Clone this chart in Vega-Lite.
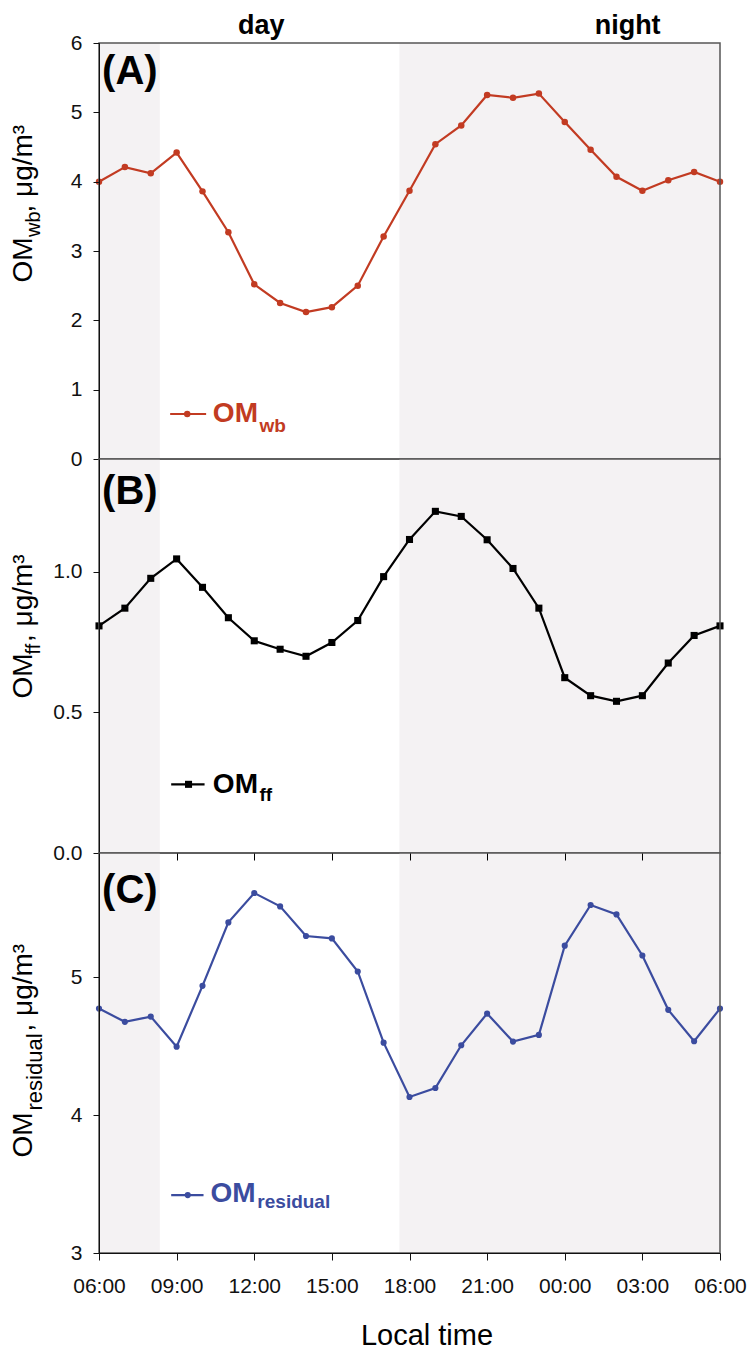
{
  "$schema": "https://vega.github.io/schema/vega-lite/v6.json",
  "padding": {"left": 9, "top": 11, "right": 10, "bottom": 5},
  "spacing": 0,
  "bounds": "flush",
  "datasets": {
    "bands": [{"start": 6, "end": 8.35}, {"start": 17.61, "end": 30}],
    "diurnal": [
      {"hour": 6, "om_wb": 4.0, "om_ff": 0.807, "om_residual": 4.772},
      {"hour": 7, "om_wb": 4.21, "om_ff": 0.87, "om_residual": 4.676},
      {"hour": 8, "om_wb": 4.12, "om_ff": 0.976, "om_residual": 4.714},
      {"hour": 9, "om_wb": 4.42, "om_ff": 1.045, "om_residual": 4.496},
      {"hour": 10, "om_wb": 3.86, "om_ff": 0.944, "om_residual": 4.937},
      {"hour": 11, "om_wb": 3.27, "om_ff": 0.836, "om_residual": 5.397},
      {"hour": 12, "om_wb": 2.52, "om_ff": 0.754, "om_residual": 5.61},
      {"hour": 13, "om_wb": 2.25, "om_ff": 0.724, "om_residual": 5.513},
      {"hour": 14, "om_wb": 2.12, "om_ff": 0.699, "om_residual": 5.298},
      {"hour": 15, "om_wb": 2.19, "om_ff": 0.748, "om_residual": 5.281},
      {"hour": 16, "om_wb": 2.5, "om_ff": 0.826, "om_residual": 5.041},
      {"hour": 17, "om_wb": 3.21, "om_ff": 0.982, "om_residual": 4.525},
      {"hour": 18, "om_wb": 3.87, "om_ff": 1.114, "om_residual": 4.131},
      {"hour": 19, "om_wb": 4.54, "om_ff": 1.214, "om_residual": 4.196},
      {"hour": 20, "om_wb": 4.81, "om_ff": 1.196, "om_residual": 4.506},
      {"hour": 21, "om_wb": 5.25, "om_ff": 1.113, "om_residual": 4.736},
      {"hour": 22, "om_wb": 5.21, "om_ff": 1.011, "om_residual": 4.533},
      {"hour": 23, "om_wb": 5.27, "om_ff": 0.87, "om_residual": 4.581},
      {"hour": 24, "om_wb": 4.86, "om_ff": 0.623, "om_residual": 5.228},
      {"hour": 25, "om_wb": 4.46, "om_ff": 0.559, "om_residual": 5.523},
      {"hour": 26, "om_wb": 4.07, "om_ff": 0.539, "om_residual": 5.455},
      {"hour": 27, "om_wb": 3.87, "om_ff": 0.559, "om_residual": 5.157},
      {"hour": 28, "om_wb": 4.02, "om_ff": 0.675, "om_residual": 4.763},
      {"hour": 29, "om_wb": 4.14, "om_ff": 0.773, "om_residual": 4.535},
      {"hour": 30, "om_wb": 4.0, "om_ff": 0.807, "om_residual": 4.772}
    ]
  },
  "vconcat": [
    {
      "width": 621,
      "height": 416,
      "layer": [
        {
          "data": {"name": "bands"},
          "mark": {"type": "rect", "color": "#f4f2f3"},
          "encoding": {
            "x": {"field": "start", "type": "quantitative", "scale": {"domain": [6, 30], "nice": false, "zero": false}, "axis": null},
            "x2": {"field": "end"}
          }
        },
        {
          "data": {"name": "diurnal"},
          "mark": {"type": "line", "color": "#c23b22", "strokeWidth": 2.2},
          "encoding": {
            "x": {"field": "hour", "type": "quantitative", "axis": null},
            "y": {"field": "om_wb", "type": "quantitative", "scale": {"domain": [0, 6], "nice": false, "zero": false}, "axis": {"orient": "left", "values": [0, 1, 2, 3, 4, 5, 6], "title": null, "tickSize": 6, "labelPadding": 11, "labelFontSize": 21, "grid": false, "zindex": 1}}
          }
        },
        {
          "data": {"name": "diurnal"},
          "mark": {"type": "point", "filled": true, "shape": "circle", "size": 42, "color": "#c23b22", "opacity": 1},
          "encoding": {
            "x": {"field": "hour", "type": "quantitative", "axis": null},
            "y": {"field": "om_wb", "type": "quantitative", "axis": null}
          }
        },
        {
          "data": {"values": [{}]},
          "mark": {"type": "rule", "color": "#c23b22", "strokeWidth": 2.2},
          "encoding": {
            "x": {"datum": 8.75, "axis": null},
            "x2": {"datum": 10.14},
            "y": {"datum": 0.649, "axis": {"orient": "left", "title": "OM", "labels": false, "ticks": false, "domain": false, "grid": false, "titleAngle": 270, "titleAlign": "left", "titleBaseline": "alphabetic", "titleX": -67.8, "titleY": 239, "titleFontSize": 28, "titleFontWeight": "normal", "titleColor": "#000"}}
          }
        },
        {
          "data": {"values": [{}]},
          "mark": {"type": "point", "filled": true, "shape": "circle", "size": 42, "color": "#c23b22", "opacity": 1},
          "encoding": {
            "x": {"datum": 9.41, "axis": null},
            "y": {"datum": 0.649, "axis": {"orient": "left", "title": "wb", "labels": false, "ticks": false, "domain": false, "grid": false, "titleAngle": 270, "titleAlign": "left", "titleBaseline": "alphabetic", "titleX": -60, "titleY": 193.5, "titleFontSize": 20, "titleFontWeight": "normal", "titleColor": "#000"}}
          }
        },
        {
          "data": {"values": [{}]},
          "mark": {"type": "text", "text": "OM", "align": "left", "baseline": "alphabetic", "fontSize": 28, "fontWeight": "bold", "color": "#c23b22"},
          "encoding": {
            "x": {"datum": 10.4, "axis": null},
            "y": {"datum": 0.528, "axis": {"orient": "left", "title": ", μg/m³", "labels": false, "ticks": false, "domain": false, "grid": false, "titleAngle": 270, "titleAlign": "left", "titleBaseline": "alphabetic", "titleX": -67.8, "titleY": 169, "titleFontSize": 28, "titleFontWeight": "normal", "titleColor": "#000"}}
          }
        },
        {
          "data": {"values": [{}]},
          "mark": {"type": "text", "text": "wb", "align": "left", "baseline": "alphabetic", "fontSize": 19, "fontWeight": "bold", "color": "#c23b22"},
          "encoding": {
            "x": {"datum": 12.2, "axis": null},
            "y": {"datum": 0.384, "axis": null}
          }
        },
        {
          "data": {"values": [{}]},
          "mark": {"type": "text", "text": "(A)", "align": "left", "baseline": "alphabetic", "fontSize": 40, "fontWeight": "bold", "color": "#000"},
          "encoding": {
            "x": {"datum": 6.12, "axis": null},
            "y": {"datum": 5.41, "axis": null}
          }
        },
        {
          "data": {"values": [{}]},
          "mark": {"type": "text", "text": "day", "align": "center", "baseline": "alphabetic", "fontSize": 27, "fontWeight": "bold", "color": "#000"},
          "encoding": {
            "x": {"datum": 12.27, "axis": null},
            "y": {"datum": 6.134, "axis": null}
          }
        },
        {
          "data": {"values": [{}]},
          "mark": {"type": "text", "text": "night", "align": "center", "baseline": "alphabetic", "fontSize": 27, "fontWeight": "bold", "color": "#000"},
          "encoding": {
            "x": {"datum": 26.43, "axis": null},
            "y": {"datum": 6.134, "axis": null}
          }
        },
        {
          "data": {"values": [{}]},
          "mark": {"type": "rect", "fill": null, "fillOpacity": 0, "stroke": "#555555", "strokeWidth": 1.5},
          "encoding": {
            "x": {"datum": 6, "axis": null},
            "x2": {"datum": 30},
            "y": {"datum": 0, "axis": null},
            "y2": {"datum": 6}
          }
        }
      ],
      "resolve": {"axis": {"y": "independent"}}
    },
    {
      "width": 621,
      "height": 394,
      "layer": [
        {
          "data": {"name": "bands"},
          "mark": {"type": "rect", "color": "#f4f2f3"},
          "encoding": {
            "x": {"field": "start", "type": "quantitative", "scale": {"domain": [6, 30], "nice": false, "zero": false}, "axis": null},
            "x2": {"field": "end"}
          }
        },
        {
          "data": {"name": "diurnal"},
          "mark": {"type": "line", "color": "#000000", "strokeWidth": 2.2},
          "encoding": {
            "x": {"field": "hour", "type": "quantitative", "axis": {"orient": "top", "values": [9, 12, 15, 18, 21, 24, 27], "labels": false, "domain": false, "grid": false, "ticks": true, "tickSize": 7, "offset": -7, "tickColor": "#000", "tickWidth": 1, "title": null, "zindex": 1}},
            "y": {"field": "om_ff", "type": "quantitative", "scale": {"domain": [0, 1.4], "nice": false, "zero": false}, "axis": {"orient": "left", "values": [0, 0.5, 1.0], "format": ".1f", "title": null, "tickSize": 6, "labelPadding": 11, "labelFontSize": 21, "grid": false, "zindex": 1}}
          }
        },
        {
          "data": {"name": "diurnal"},
          "mark": {"type": "point", "filled": true, "shape": "square", "size": 50, "color": "#000000", "opacity": 1},
          "encoding": {
            "x": {"field": "hour", "type": "quantitative", "axis": null},
            "y": {"field": "om_ff", "type": "quantitative", "axis": null}
          }
        },
        {
          "data": {"values": [{}]},
          "mark": {"type": "rule", "color": "#000000", "strokeWidth": 2.2},
          "encoding": {
            "x": {"datum": 8.79, "axis": null},
            "x2": {"datum": 10.08},
            "y": {"datum": 0.244, "axis": {"orient": "left", "title": "OM", "labels": false, "ticks": false, "domain": false, "grid": false, "titleAngle": 270, "titleAlign": "left", "titleBaseline": "alphabetic", "titleX": -67.8, "titleY": 239, "titleFontSize": 28, "titleFontWeight": "normal", "titleColor": "#000"}}
          }
        },
        {
          "data": {"values": [{}]},
          "mark": {"type": "point", "filled": true, "shape": "square", "size": 50, "color": "#000000", "opacity": 1},
          "encoding": {
            "x": {"datum": 9.46, "axis": null},
            "y": {"datum": 0.244, "axis": {"orient": "left", "title": "ff", "labels": false, "ticks": false, "domain": false, "grid": false, "titleAngle": 270, "titleAlign": "left", "titleBaseline": "alphabetic", "titleX": -59.5, "titleY": 195, "titleFontSize": 20, "titleFontWeight": "normal", "titleColor": "#000"}}
          }
        },
        {
          "data": {"values": [{}]},
          "mark": {"type": "text", "text": "OM", "align": "left", "baseline": "alphabetic", "fontSize": 28, "fontWeight": "bold", "color": "#000000"},
          "encoding": {
            "x": {"datum": 10.4, "axis": null},
            "y": {"datum": 0.214, "axis": {"orient": "left", "title": ", μg/m³", "labels": false, "ticks": false, "domain": false, "grid": false, "titleAngle": 270, "titleAlign": "left", "titleBaseline": "alphabetic", "titleX": -67.8, "titleY": 182.5, "titleFontSize": 28, "titleFontWeight": "normal", "titleColor": "#000"}}
          }
        },
        {
          "data": {"values": [{}]},
          "mark": {"type": "text", "text": "ff", "align": "left", "baseline": "alphabetic", "fontSize": 19, "fontWeight": "bold", "color": "#000000"},
          "encoding": {
            "x": {"datum": 12.2, "axis": null},
            "y": {"datum": 0.185, "axis": null}
          }
        },
        {
          "data": {"values": [{}]},
          "mark": {"type": "text", "text": "(B)", "align": "left", "baseline": "alphabetic", "fontSize": 40, "fontWeight": "bold", "color": "#000"},
          "encoding": {
            "x": {"datum": 6.12, "axis": null},
            "y": {"datum": 1.239, "axis": null}
          }
        },
        {
          "data": {"values": [{}]},
          "mark": {"type": "rect", "fill": null, "fillOpacity": 0, "stroke": "#555555", "strokeWidth": 1.5},
          "encoding": {
            "x": {"datum": 6, "axis": null},
            "x2": {"datum": 30},
            "y": {"datum": 0, "axis": null},
            "y2": {"datum": 1.4}
          }
        }
      ],
      "resolve": {"axis": {"y": "independent"}}
    },
    {
      "width": 621,
      "height": 400,
      "layer": [
        {
          "data": {"name": "bands"},
          "mark": {"type": "rect", "color": "#f4f2f3"},
          "encoding": {
            "x": {"field": "start", "type": "quantitative", "scale": {"domain": [6, 30], "nice": false, "zero": false}, "axis": null},
            "x2": {"field": "end"}
          }
        },
        {
          "data": {"name": "diurnal"},
          "mark": {"type": "line", "color": "#3b4c9f", "strokeWidth": 2.2},
          "encoding": {
            "x": {"field": "hour", "type": "quantitative", "axis": {"orient": "bottom", "values": [6, 9, 12, 15, 18, 21, 24, 27, 30], "labelExpr": "(datum.value % 24 < 10 ? '0' : '') + (datum.value % 24) + ':00'", "labelFlush": false, "labelOverlap": false, "tickSize": 7, "labelPadding": 15, "labelFontSize": 21, "grid": false, "title": "Local time", "titleFontSize": 29, "titleFontWeight": "normal", "titleAlign": "center", "titleBaseline": "alphabetic", "titleX": 327.5, "titleY": 91, "titleColor": "#000", "zindex": 1}},
            "y": {"field": "om_residual", "type": "quantitative", "scale": {"domain": [3, 5.9], "nice": false, "zero": false}, "axis": {"orient": "left", "values": [3, 4, 5], "title": null, "tickSize": 6, "labelPadding": 11, "labelFontSize": 21, "grid": false, "zindex": 1}}
          }
        },
        {
          "data": {"name": "diurnal"},
          "mark": {"type": "point", "filled": true, "shape": "circle", "size": 38, "color": "#3b4c9f", "opacity": 1},
          "encoding": {
            "x": {"field": "hour", "type": "quantitative", "axis": {"orient": "top", "values": [9, 12, 15, 18, 21, 24, 27], "labels": false, "domain": false, "grid": false, "ticks": true, "tickSize": 7, "offset": -7, "tickColor": "#000", "tickWidth": 1, "title": null, "zindex": 1}},
            "y": {"field": "om_residual", "type": "quantitative", "axis": null}
          }
        },
        {
          "data": {"values": [{}]},
          "mark": {"type": "rule", "color": "#3b4c9f", "strokeWidth": 2.2},
          "encoding": {
            "x": {"datum": 8.79, "axis": null},
            "x2": {"datum": 10.04},
            "y": {"datum": 3.42, "axis": {"orient": "left", "title": "OM", "labels": false, "ticks": false, "domain": false, "grid": false, "titleAngle": 270, "titleAlign": "left", "titleBaseline": "alphabetic", "titleX": -67.8, "titleY": 304, "titleFontSize": 28, "titleFontWeight": "normal", "titleColor": "#000"}}
          }
        },
        {
          "data": {"values": [{}]},
          "mark": {"type": "point", "filled": true, "shape": "circle", "size": 38, "color": "#3b4c9f", "opacity": 1},
          "encoding": {
            "x": {"datum": 9.43, "axis": null},
            "y": {"datum": 3.42, "axis": {"orient": "left", "title": "residual", "labels": false, "ticks": false, "domain": false, "grid": false, "titleAngle": 270, "titleAlign": "left", "titleBaseline": "alphabetic", "titleX": -57.8, "titleY": 257, "titleFontSize": 22, "titleFontWeight": "normal", "titleColor": "#000"}}
          }
        },
        {
          "data": {"values": [{}]},
          "mark": {"type": "text", "text": "OM", "align": "left", "baseline": "alphabetic", "fontSize": 28, "fontWeight": "bold", "color": "#3b4c9f"},
          "encoding": {
            "x": {"datum": 10.31, "axis": null},
            "y": {"datum": 3.37, "axis": {"orient": "left", "title": ", μg/m³", "labels": false, "ticks": false, "domain": false, "grid": false, "titleAngle": 270, "titleAlign": "left", "titleBaseline": "alphabetic", "titleX": -67.8, "titleY": 178, "titleFontSize": 28, "titleFontWeight": "normal", "titleColor": "#000"}}
          }
        },
        {
          "data": {"values": [{}]},
          "mark": {"type": "text", "text": "residual", "align": "left", "baseline": "alphabetic", "fontSize": 19, "fontWeight": "bold", "color": "#3b4c9f"},
          "encoding": {
            "x": {"datum": 12.12, "axis": null},
            "y": {"datum": 3.326, "axis": null}
          }
        },
        {
          "data": {"values": [{}]},
          "mark": {"type": "text", "text": "(C)", "align": "left", "baseline": "alphabetic", "fontSize": 40, "fontWeight": "bold", "color": "#000"},
          "encoding": {
            "x": {"datum": 6.12, "axis": null},
            "y": {"datum": 5.54, "axis": null}
          }
        },
        {
          "data": {"values": [{}]},
          "mark": {"type": "rect", "fill": null, "fillOpacity": 0, "stroke": "#555555", "strokeWidth": 1.5},
          "encoding": {
            "x": {"datum": 6, "axis": null},
            "x2": {"datum": 30},
            "y": {"datum": 3, "axis": null},
            "y2": {"datum": 5.9}
          }
        }
      ],
      "resolve": {"axis": {"x": "independent", "y": "independent"}}
    }
  ],
  "config": {
    "font": "Liberation Sans",
    "view": {"stroke": null},
    "axis": {"labelFont": "Liberation Sans", "titleFont": "Liberation Sans", "labelColor": "#111", "titleColor": "#111", "tickColor": "#111", "domainColor": "#111", "grid": false},
    "text": {"font": "Liberation Sans"}
  }
}
